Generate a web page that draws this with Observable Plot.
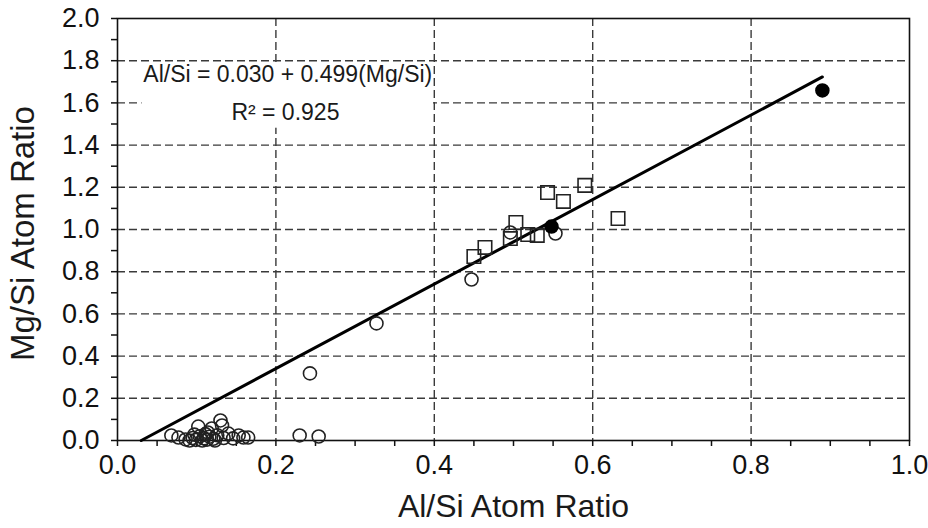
<!DOCTYPE html>
<html>
<head>
<meta charset="utf-8">
<script src="https://cdn.jsdelivr.net/npm/d3@7"></script>
<script src="https://cdn.jsdelivr.net/npm/@observablehq/plot@0.6"></script>
<style>
  html, body { margin: 0; padding: 0; background: #fff; }
</style>
</head>
<body>
<div id="chart"></div>
<script>
// Open circles
const openX = [0.068,0.077,0.086,0.091,0.095,0.099,0.102,0.104,0.107,0.109,0.111,0.113,0.116,0.119,0.121,0.123,0.126,0.130,0.132,0.134,0.140,0.146,0.153,0.159,0.165,0.097,0.114,
               0.230,0.254,0.243,0.327,0.447,0.496,0.553];
const openY = [0.024,0.014,0.005,0.000,0.012,0.003,0.066,0.020,0.000,0.010,0.030,0.004,0.018,0.057,0.008,0.000,0.025,0.095,0.071,0.012,0.033,0.010,0.024,0.014,0.014,0.028,0.038,
               0.024,0.019,0.318,0.555,0.763,0.986,0.981];
// Open squares
const squareX = [0.450,0.464,0.503,0.496,0.518,0.530,0.543,0.563,0.590,0.632];
const squareY = [0.872,0.915,1.033,0.957,0.976,0.972,1.175,1.133,1.209,1.052];
// Filled circles
const filledX = [0.548,0.890];
const filledY = [1.014,1.659];
// Regression line endpoints
const lineX = [0.030,0.890];
const lineY = [0.000,1.723];
// Ticks
const xTicks = [0,0.2,0.4,0.6,0.8,1.0];
const yTicks = [0,0.2,0.4,0.6,0.8,1.0,1.2,1.4,1.6,1.8,2.0];
const xMinor = [0.05,0.1,0.15,0.25,0.3,0.35,0.45,0.5,0.55,0.65,0.7,0.75,0.85,0.9,0.95];
const yMinor = [0.1,0.3,0.5,0.7,0.9,1.1,1.3,1.5,1.7,1.9];
const xGrid = [0.2,0.4,0.6,0.8];
const yGrid = [0.2,0.4,0.6,0.8,1.0,1.2,1.4,1.6,1.8];
// Annotation
const eqLines = ["Al/Si = 0.030 + 0.499(Mg/Si)", "R\u00B2 = 0.925"];
const eqX = [0.215, 0.212];
const eqY = [1.735, 1.555];
const boxX = [0.031, 0.399];
const boxY = [1.48, 1.787];

const pts = (xs, ys) => xs.map((x, i) => ({x, y: ys[i]}));
const font = "'Liberation Sans', Arial, Helvetica, sans-serif";

const chart = Plot.plot({
  width: 928,
  height: 528,
  marginLeft: 117,
  marginRight: 19,
  marginTop: 18,
  marginBottom: 88,
  x: {domain: [0, 1]},
  y: {domain: [0, 2]},
  style: {fontFamily: font, color: "#111", background: "#fff"},
  marks: [
    Plot.gridX(xGrid, {stroke: "#3a3a3a", strokeOpacity: 1, strokeWidth: 1.4, strokeDasharray: "8,4"}),
    Plot.gridY(yGrid, {stroke: "#3a3a3a", strokeOpacity: 1, strokeWidth: 1.4, strokeDasharray: "8,4"}),
    Plot.rect([0], {x1: () => boxX[0], x2: () => boxX[1], y1: () => boxY[0], y2: () => boxY[1], fill: "white"}),
    Plot.axisX(xTicks, {tickSize: 6, tickPadding: 8, fontSize: 27, tickFormat: d3.format(".1f"), label: null, strokeWidth: 1.5}),
    Plot.axisX(xMinor, {tickSize: 6, tickFormat: () => "", label: null, strokeWidth: 1.5}),
    Plot.axisY(yTicks, {tickSize: 6, tickPadding: 12, fontSize: 27, tickFormat: d3.format(".1f"), label: null, strokeWidth: 1.5}),
    Plot.axisY(yMinor, {tickSize: 6, tickFormat: () => "", label: null, strokeWidth: 1.5}),
    Plot.frame({stroke: "#111", strokeWidth: 1.6}),
    Plot.line(pts(lineX, lineY), {x: "x", y: "y", stroke: "#000", strokeWidth: 3}),
    Plot.dot(pts(openX, openY), {x: "x", y: "y", r: 6.5, stroke: "#222", strokeWidth: 1.6, fill: "none"}),
    Plot.dot(pts(squareX, squareY), {x: "x", y: "y", r: 7.6, symbol: "square", stroke: "#222", strokeWidth: 1.6, fill: "none"}),
    Plot.dot(pts(filledX, filledY), {x: "x", y: "y", r: 6.5, fill: "#000", stroke: "#000"}),
    Plot.text(eqLines, {x: (d, i) => eqX[i], y: (d, i) => eqY[i], text: d => d, fontSize: 23, fill: "#1a1a1a"}),
    Plot.text(["Al/Si Atom Ratio"], {frameAnchor: "bottom", dy: 76, fontSize: 32, fill: "#1a1a1a"}),
    Plot.text(["Mg/Si Atom Ratio"], {frameAnchor: "left", textAnchor: "middle", dx: -94, dy: 4, rotate: -90, fontSize: 33, fill: "#1a1a1a"})
  ]
});
document.getElementById("chart").appendChild(chart);
</script>
</body>
</html>
